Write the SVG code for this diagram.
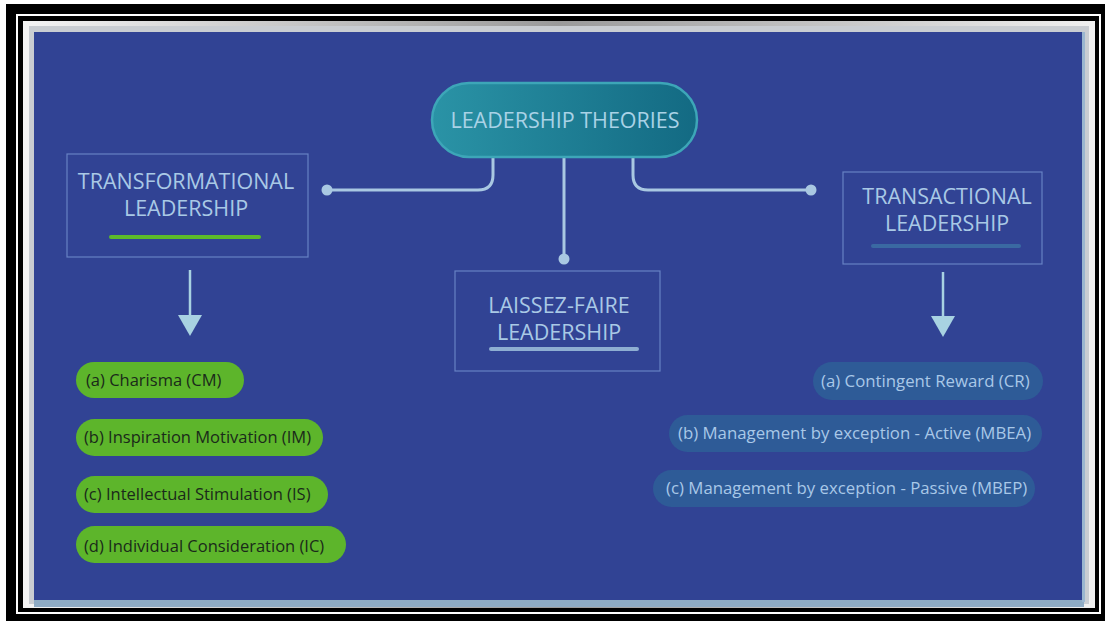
<svg xmlns="http://www.w3.org/2000/svg" width="1107" height="624" viewBox="0 0 1107 624">
  <defs>
    <linearGradient id="pillGrad" x1="0" y1="0" x2="1" y2="0">
      <stop offset="0" stop-color="#2a93a6"/>
      <stop offset="1" stop-color="#136a83"/>
    </linearGradient>
    <linearGradient id="bevelH" x1="0" y1="0" x2="1" y2="0">
      <stop offset="0" stop-color="#f4f4f4"/>
      <stop offset="0.5" stop-color="#9a9a9a"/>
      <stop offset="1" stop-color="#f0f0f0"/>
    </linearGradient>
    <marker id="arrow" viewBox="0 0 24 22" refX="12" refY="0" markerWidth="24" markerHeight="22" markerUnits="userSpaceOnUse" orient="0">
      <path d="M0,0 L24,0 L12,21 Z" fill="#a8d2e2"/>
    </marker>
  </defs>
  <style>
    .head { font-family: "Open Sans", "Liberation Sans", sans-serif; font-size: 21.5px; fill: #a9c9e6; text-anchor: middle; }
    .title { font-family: "Open Sans", "Liberation Sans", sans-serif; font-size: 21.5px; fill: #a9d2e6; text-anchor: middle; }
    .box { fill: none; stroke: #6782c4; stroke-width: 1.2; }
    .green { fill: #5db52b; }
    .gtxt { font-family: "Open Sans", "Liberation Sans", sans-serif; font-size: 16.5px; fill: #1a2a1a; }
    .blue { fill: #2e5b97; }
    .btxt { font-family: "Open Sans", "Liberation Sans", sans-serif; font-size: 16.8px; fill: #a9c8e8; }
    .conn { fill: none; stroke: #a9c8e2; stroke-width: 3; }
    .dot { fill: #a9c8e2; }
    .down { stroke: #a8d2e2; stroke-width: 2.5; }
  </style>

  <!-- picture frame -->
  <rect x="0" y="0" width="1107" height="624" fill="#ffffff"/>
  <rect x="6" y="4" width="1099" height="617" fill="#000000"/>
  <rect x="17" y="15" width="1083" height="598" fill="none" stroke="#ffffff" stroke-width="2"/>
  <rect x="23" y="21" width="1072" height="587" fill="url(#bevelH)"/>
  <rect x="29" y="26" width="1060" height="578" fill="#c9cdd2"/>
  <rect x="34" y="32" width="1050" height="570" fill="#314394"/>
  <rect x="34" y="600" width="1050" height="7" fill="#8eabc4"/>
  <rect x="1082" y="32" width="3" height="570" fill="#9ab6d0"/>

  <!-- connectors -->
  <g id="connectors">
    <path class="conn" d="M493,157 V175 Q493,190 478,190 H328"/>
    <circle class="dot" cx="327" cy="190" r="5.5"/>
    <path class="conn" d="M564,157 V258"/>
    <circle class="dot" cx="564" cy="259" r="5.5"/>
    <path class="conn" d="M633,157 V175 Q633,190 648,190 H810"/>
    <circle class="dot" cx="811" cy="190" r="5.5"/>
    <line class="down" x1="190" y1="270" x2="190" y2="315" marker-end="url(#arrow)"/>
    <line class="down" x1="943" y1="272" x2="943" y2="316" marker-end="url(#arrow)"/>
  </g>

  <!-- root -->
  <g id="root">
    <rect x="432" y="83" width="265" height="74" rx="37" fill="url(#pillGrad)" stroke="#3da6b8" stroke-width="2.5"/>
    <text class="title" x="565" y="128">LEADERSHIP THEORIES</text>
  </g>

  <!-- transformational -->
  <g id="transformational">
    <rect class="box" x="67" y="154" width="241" height="103"/>
    <text class="head" x="186" y="189">TRANSFORMATIONAL</text>
    <text class="head" x="186" y="216">LEADERSHIP</text>
    <line x1="111" y1="237" x2="259" y2="237" stroke="#5cbb2a" stroke-width="4" stroke-linecap="round"/>
  </g>

  <!-- laissez-faire -->
  <g id="laissez-faire">
    <rect class="box" x="455" y="271" width="205" height="100"/>
    <text class="head" x="559" y="313">LAISSEZ-FAIRE</text>
    <text class="head" x="559" y="340">LEADERSHIP</text>
    <line x1="491" y1="349" x2="637" y2="349" stroke="#8eaed2" stroke-width="4" stroke-linecap="round"/>
  </g>

  <!-- transactional -->
  <g id="transactional">
    <rect class="box" x="843" y="172" width="199" height="92"/>
    <text class="head" x="947" y="204">TRANSACTIONAL</text>
    <text class="head" x="947" y="231">LEADERSHIP</text>
    <line x1="873" y1="246" x2="1019" y2="246" stroke="#3a69a2" stroke-width="4" stroke-linecap="round"/>
  </g>

  <!-- transformational factors -->
  <g id="tf-a">
    <rect class="green" x="76" y="362" width="168" height="36" rx="18"/>
    <text class="gtxt" x="86" y="386">(a) Charisma (CM)</text>
  </g>
  <g id="tf-b">
    <rect class="green" x="76" y="419" width="247" height="37" rx="18.5"/>
    <text class="gtxt" x="84" y="443">(b) Inspiration Motivation (IM)</text>
  </g>
  <g id="tf-c">
    <rect class="green" x="76" y="476" width="252" height="37" rx="18.5"/>
    <text class="gtxt" x="84" y="500">(c) Intellectual Stimulation (IS)</text>
  </g>
  <g id="tf-d">
    <rect class="green" x="76" y="526" width="270" height="37" rx="18.5"/>
    <text class="gtxt" x="84" y="552">(d) Individual Consideration (IC)</text>
  </g>

  <!-- transactional factors -->
  <g id="ta-a">
    <rect class="blue" x="813" y="362" width="230" height="38" rx="19"/>
    <text class="btxt" x="821" y="387">(a) Contingent Reward (CR)</text>
  </g>
  <g id="ta-b">
    <rect class="blue" x="669" y="415" width="373" height="37" rx="18.5"/>
    <text class="btxt" x="678" y="439">(b) Management by exception - Active (MBEA)</text>
  </g>
  <g id="ta-c">
    <rect class="blue" x="653" y="470" width="382" height="37" rx="18.5"/>
    <text class="btxt" x="666" y="494">(c) Management by exception - Passive (MBEP)</text>
  </g>
</svg>
